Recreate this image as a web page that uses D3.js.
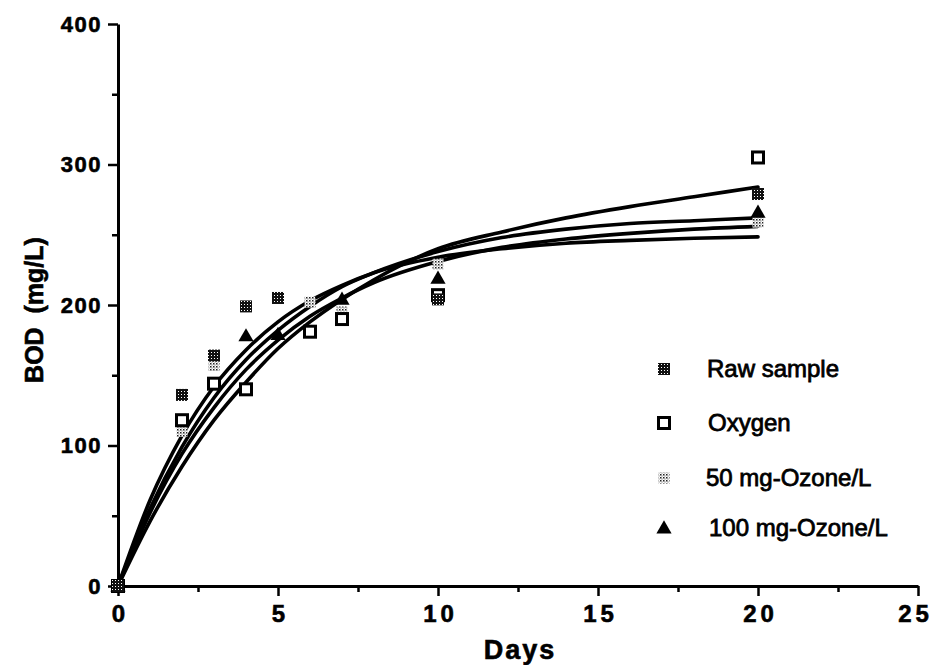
<!DOCTYPE html>
<html><head><meta charset="utf-8">
<script src="https://cdn.jsdelivr.net/npm/d3@7"></script>
<style>body{margin:0;background:#fff} svg{display:block;font-family:"Liberation Sans",Arial,sans-serif}</style>
</head><body><svg id="c" width="937" height="665"></svg>
<script>
// ---- data ----
const xTicks = [0, 5, 10, 15, 20, 25];
const xMinor = [2.5, 7.5, 12.5, 17.5, 22.5];
const yTicks = [0, 100, 200, 300, 400];
const yMinor = [50, 150, 250, 350];

const seriesNames = ["Raw sample", "Oxygen", "50 mg-Ozone/L", "100 mg-Ozone/L"];

// fitted curves, read at these days
const curveDays     = [0, 1, 2, 3, 4, 5, 6, 7, 8, 10, 12, 14, 16, 18, 20];
const rawCurve      = [0, 61, 107, 142, 168, 188, 203, 214, 223, 234, 240, 244, 246, 247.5, 248.5];
const oxygenCurve   = [0, 46, 85, 118, 145, 169, 188, 204, 218, 240, 252, 262, 270, 277, 284];
const ozone50Curve  = [0, 52, 94, 127, 154, 175, 192, 205, 216, 231, 241, 247, 251, 254, 256];
const ozone100Curve = [0, 55, 99, 134, 161, 182, 199, 213, 223, 238, 248, 254, 258, 260, 262];

// measured points
const rawDays = [0, 2, 3, 4, 5, 10, 20];
const rawVals = [0, 136, 164, 199, 205, 204, 279];
const oxygenDays = [0, 2, 3, 4, 6, 7, 10, 20];
const oxygenVals = [0, 118, 144, 140, 181, 190, 207, 305];
const ozone50Days = [0, 2, 3, 6, 7, 10, 20];
const ozone50Vals = [0, 110, 157, 202, 195, 229, 259];
const ozone100Days = [0, 4, 5, 7, 10, 20];
const ozone100Vals = [0, 178, 179, 204, 219, 266];

// ---- drawing ----
const svg = d3.select('#c');
const x = d3.scaleLinear().domain([0, 25]).range([118, 918]);
const y = d3.scaleLinear().domain([0, 400]).range([586, 24]);

// patterns
const defs = svg.append('defs');
const pr = defs.append('pattern').attr('id','hatchRaw').attr('patternUnits','userSpaceOnUse').attr('width',3).attr('height',3);
pr.append('rect').attr('width',3).attr('height',3).attr('fill','#111');
pr.append('rect').attr('x',1).attr('y',1).attr('width',1).attr('height',1).attr('fill','#fff');
const ps = defs.append('pattern').attr('id','stipple').attr('patternUnits','userSpaceOnUse').attr('width',3).attr('height',3);
ps.append('rect').attr('width',3).attr('height',3).attr('fill','#fff');
ps.append('rect').attr('x',0).attr('y',0).attr('width',1.5).attr('height',1.5).attr('fill','#222');
ps.append('rect').attr('x',1.5).attr('y',1.5).attr('width',1).attr('height',1).attr('fill','#555');

// axes
const axisFont = g => g.selectAll('text').attr('font-family','"Liberation Sans",Arial,sans-serif').attr('font-weight','bold').attr('fill','#000')
  .attr('stroke','#000').attr('stroke-width',0.6);

const gx = svg.append('g').attr('transform', `translate(0,${y(0)})`)
  .call(d3.axisBottom(x).tickValues(xTicks).tickSize(10).tickSizeOuter(0).tickPadding(9).tickFormat(d => d));
gx.select('.domain').attr('stroke','#000').attr('stroke-width',3);
gx.selectAll('.tick line').attr('stroke','#000').attr('stroke-width',2.5);
gx.call(axisFont);
gx.selectAll('text').attr('font-size',24).attr('letter-spacing','4px').attr('dx', d => d === 25 ? '-3px' : '2px');

const gxm = svg.append('g').attr('transform', `translate(0,${y(0)})`)
  .call(d3.axisBottom(x).tickValues(xMinor).tickSize(6).tickFormat(''));
gxm.select('.domain').remove();
gxm.selectAll('.tick line').attr('stroke','#000').attr('stroke-width',2.5);

const gy = svg.append('g').attr('transform', `translate(${x(0)},0)`)
  .call(d3.axisLeft(y).tickValues(yTicks).tickSize(10).tickSizeOuter(0).tickPadding(6).tickFormat(d => d));
gy.select('.domain').attr('stroke','#000').attr('stroke-width',3);
gy.selectAll('.tick line').attr('stroke','#000').attr('stroke-width',2.5);
gy.call(axisFont);
gy.selectAll('text').attr('font-size',22).attr('letter-spacing','1.5px');

const gym = svg.append('g').attr('transform', `translate(${x(0)},0)`)
  .call(d3.axisLeft(y).tickValues(yMinor).tickSize(6).tickFormat(''));
gym.select('.domain').remove();
gym.selectAll('.tick line').attr('stroke','#000').attr('stroke-width',2.5);

// axis titles
svg.append('text').attr('x', 520).attr('y', 659).attr('text-anchor','middle')
  .attr('font-size',27).attr('font-weight','bold').attr('letter-spacing','2px')
  .attr('stroke','#000').attr('stroke-width',0.6).text('Days');
svg.append('text').attr('transform','translate(43,310) rotate(-90)').attr('text-anchor','middle')
  .attr('font-size',25).attr('font-weight','bold').attr('stroke','#000').attr('stroke-width',0.6)
  .style('white-space','pre').text('BOD  (mg/L)');

// curves
const line = d3.line().x((d, i) => x(curveDays[i])).y(d => y(d)).curve(d3.curveMonotoneX);
[rawCurve, oxygenCurve, ozone50Curve, ozone100Curve].forEach(c => {
  svg.append('path').datum(c).attr('d', line).attr('fill','none').attr('stroke','#000')
    .attr('stroke-width',3.6).attr('stroke-linejoin','round').attr('stroke-linecap','round');
});

// markers
function drawMarker(g, kind, cx, cy) {
  if (kind === 0) {
    g.append('rect').attr('x',cx-6).attr('y',cy-6).attr('width',12).attr('height',12).attr('fill','url(#hatchRaw)');
  } else if (kind === 1) {
    g.append('rect').attr('x',cx-5.5).attr('y',cy-5.5).attr('width',11).attr('height',11)
      .attr('fill','#fff').attr('stroke','#000').attr('stroke-width',3);
  } else if (kind === 2) {
    g.append('rect').attr('x',cx-5.5).attr('y',cy-5.5).attr('width',11).attr('height',11).attr('fill','url(#stipple)');
  } else {
    g.append('path').attr('transform',`translate(${cx},${cy+1})`)
      .attr('d', d3.symbol().type(d3.symbolTriangle).size(100)()).attr('fill','#000');
  }
}
const pts = [[rawDays, rawVals], [oxygenDays, oxygenVals], [ozone50Days, ozone50Vals], [ozone100Days, ozone100Vals]];
const gm = svg.append('g');
[2, 3, 1, 0].forEach(k => {
  const [ds, vs] = pts[k];
  ds.forEach((d, i) => drawMarker(gm, k, x(d), y(vs[i])));
});

// legend
const legY = [369, 423, 478, 528];
const legTextX = [707, 708, 706, 709];
const gl = svg.append('g');
seriesNames.forEach((n, i) => {
  drawMarker(gl, i, 664, legY[i]);
  gl.append('text').attr('x', legTextX[i]).attr('y', legY[i] + 8).attr('font-size',24)
    .attr('fill','#000').attr('stroke','#000').attr('stroke-width',0.8).text(n);
});
</script>
</body></html>
